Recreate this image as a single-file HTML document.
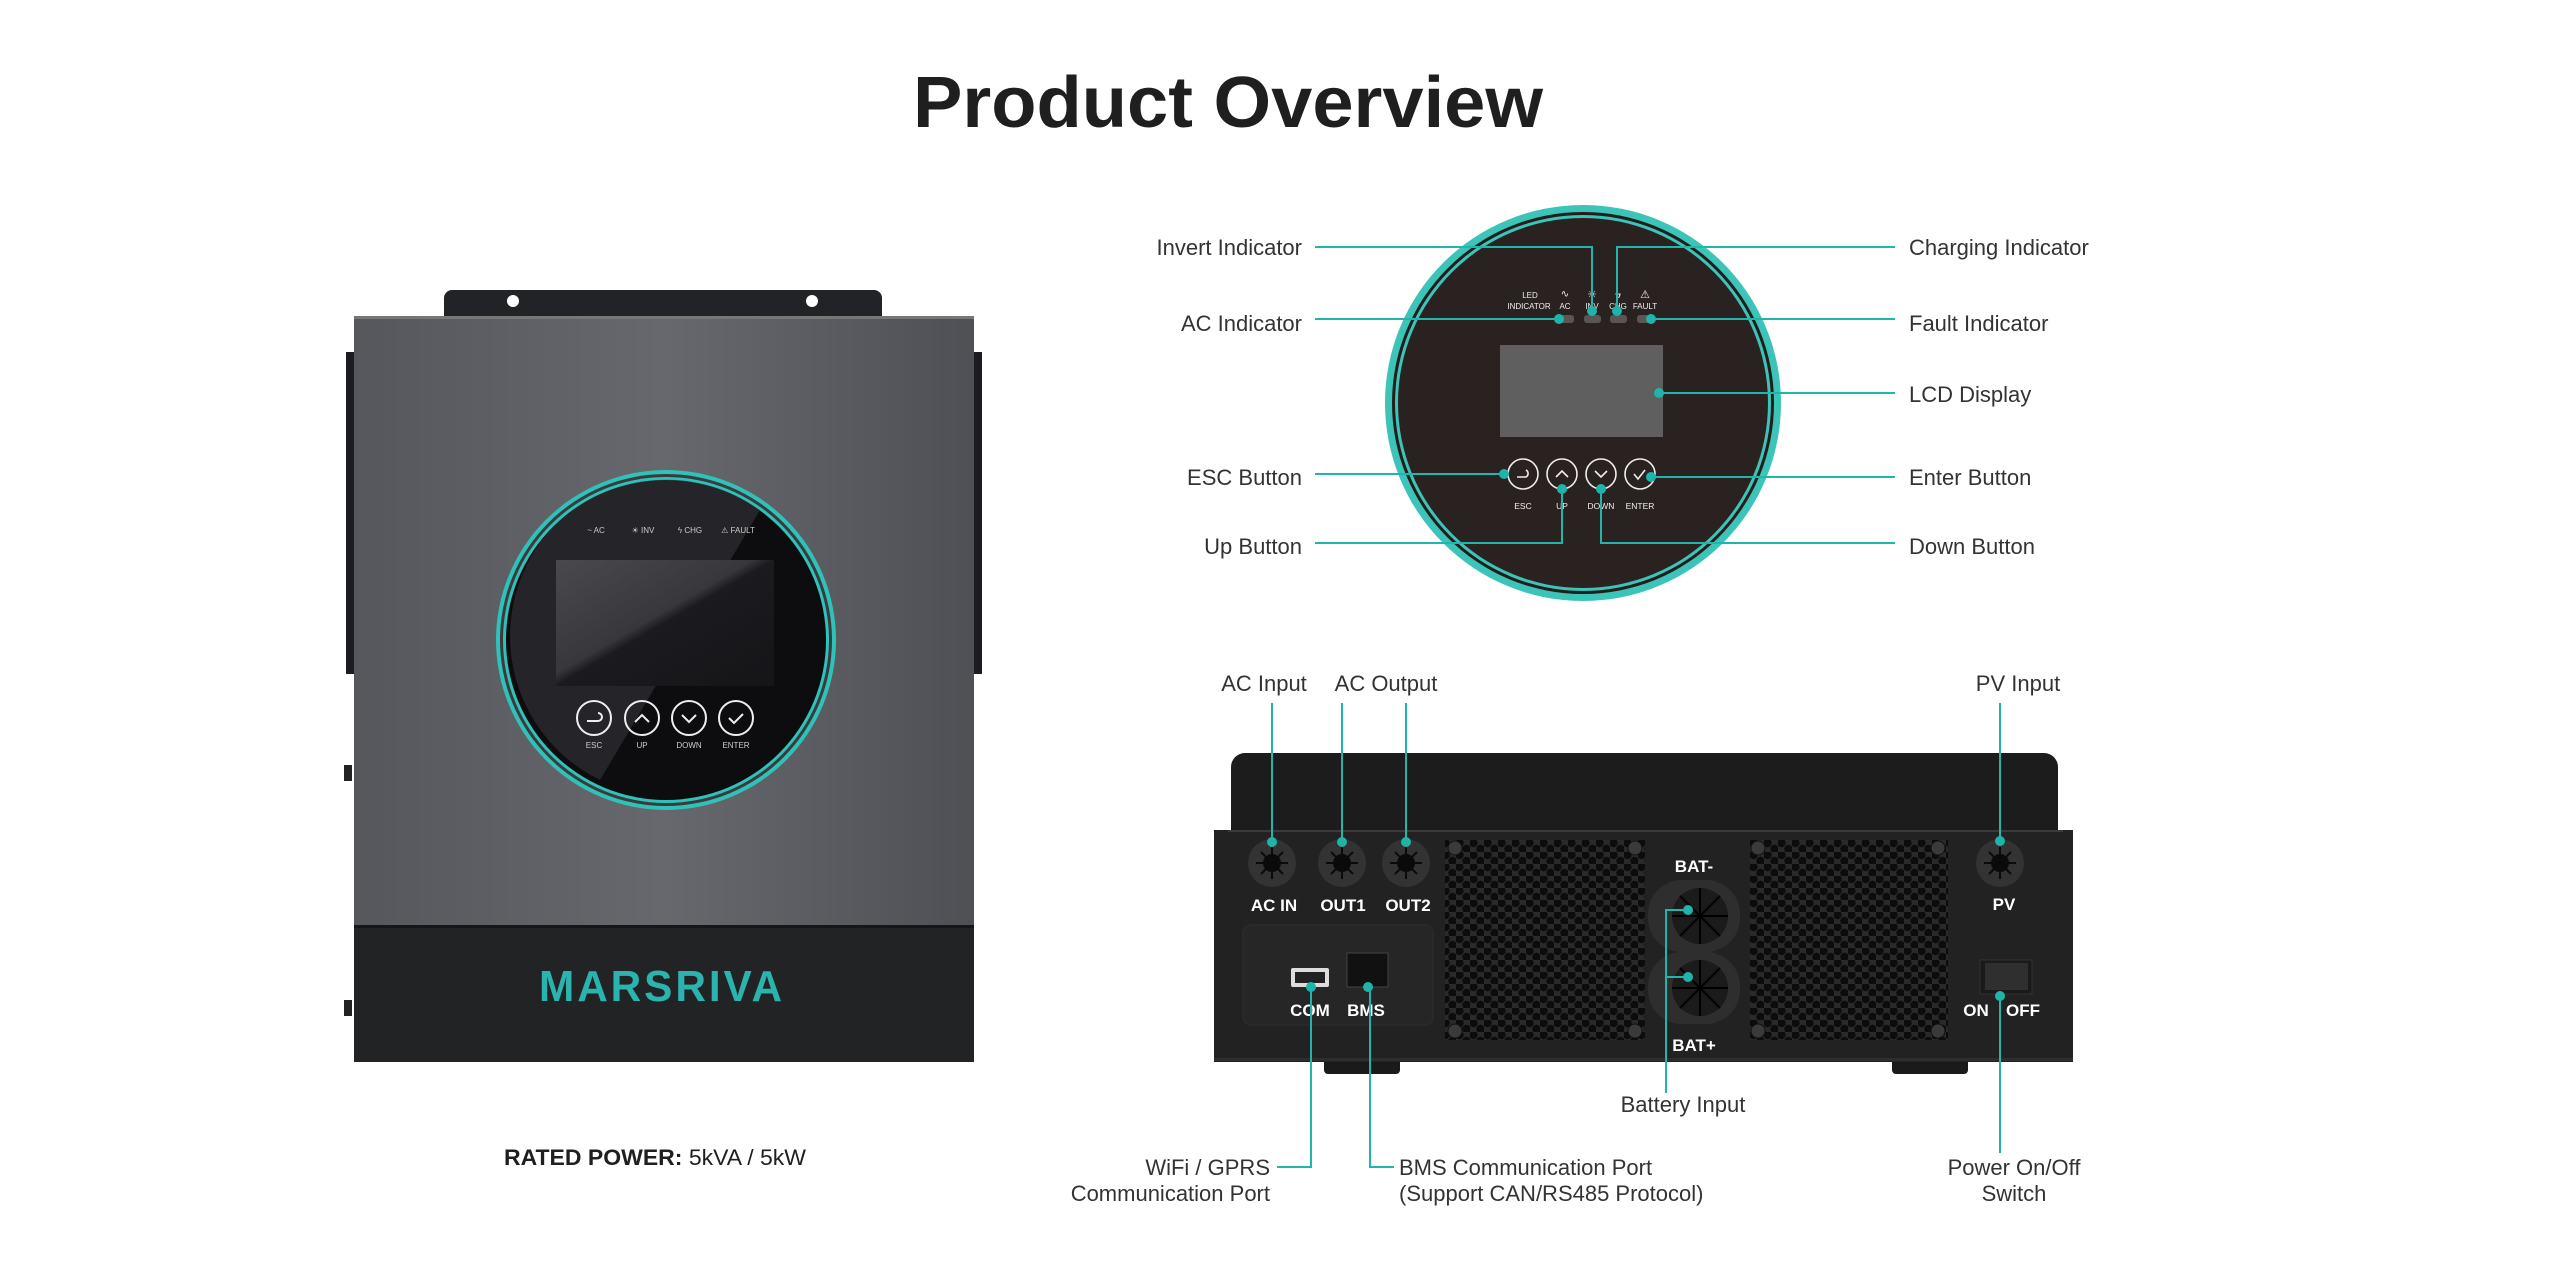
<!DOCTYPE html>
<html><head><meta charset="utf-8"><style>
html,body{margin:0;padding:0;background:#fff;}
svg{display:block}
text{font-family:"Liberation Sans",sans-serif;}
.lb{font-size:22px;fill:#333;}
.w{fill:#fff;font-weight:bold;}
.t{stroke:#22b5ab;stroke-width:2;fill:none;}
.d{fill:#1fb3aa;}
</style></head><body>
<svg width="2560" height="1280" viewBox="0 0 2560 1280" xmlns="http://www.w3.org/2000/svg">
<defs>
<linearGradient id="body" x1="0" y1="0" x2="1" y2="0">
<stop offset="0" stop-color="#55575c"/><stop offset="0.5" stop-color="#67686d"/><stop offset="1" stop-color="#4e5055"/>
</linearGradient>
<linearGradient id="lcd" x1="0" y1="0" x2="1" y2="1">
<stop offset="0" stop-color="#4a4a4e"/><stop offset="0.45" stop-color="#38383c"/><stop offset="0.5" stop-color="#1b1b1f"/><stop offset="1" stop-color="#151518"/>
</linearGradient>
<pattern id="hex" width="14" height="12" patternUnits="userSpaceOnUse">
<rect width="14" height="12" fill="#2a2a2c"/>
<circle cx="3.5" cy="3" r="4.2" fill="#0c0c0d"/><circle cx="10.5" cy="9" r="4.2" fill="#0c0c0d"/>
</pattern>
</defs>

<text x="1228" y="127" text-anchor="middle" font-size="72" font-weight="bold" fill="#1f1f1f" textLength="630" lengthAdjust="spacingAndGlyphs">Product Overview</text>

<!-- LEFT INVERTER -->
<path d="M452 290 h422 a8 8 0 0 1 8 8 v22 h-438 v-22 a8 8 0 0 1 8 -8z" fill="#222326"/>
<circle cx="513" cy="301" r="6" fill="#fff"/><circle cx="812" cy="301" r="6" fill="#fff"/>
<rect x="346" y="352" width="12" height="322" fill="#1c1d20"/>
<rect x="970" y="352" width="12" height="322" fill="#1c1d20"/>
<rect x="344" y="765" width="8" height="16" fill="#222"/><rect x="344" y="1000" width="8" height="16" fill="#222"/>
<rect x="354" y="316" width="620" height="746" fill="url(#body)"/>
<rect x="354" y="316" width="620" height="3" fill="#777"/>
<rect x="354" y="925" width="620" height="137" fill="#222325"/>
<rect x="354" y="925" width="620" height="3" fill="#161616"/>
<text x="662" y="1001" text-anchor="middle" font-size="44" font-weight="bold" fill="#2bb3ad" textLength="246" lengthAdjust="spacingAndGlyphs" letter-spacing="3">MARSRIVA</text>
<circle cx="666" cy="640" r="170" fill="#2fc2b8"/>
<circle cx="666" cy="640" r="166" fill="#3a3b3f"/>
<circle cx="666" cy="640" r="163" fill="#2fc2b8"/>
<circle cx="666" cy="640" r="160" fill="#0d0d10"/>
<path d="M560 520 A160 160 0 0 1 760 510 L600 780 A160 160 0 0 1 560 520z" fill="#3a3a3e" opacity="0.55"/>
<rect x="556" y="560" width="218" height="126" fill="url(#lcd)"/>
<g font-size="8" fill="#ccc" text-anchor="middle">
<text x="596" y="533">~ AC</text><text x="643" y="533">☀ INV</text><text x="690" y="533">ϟ CHG</text><text x="738" y="533">⚠ FAULT</text>
<text x="594" y="748">ESC</text><text x="642" y="748">UP</text><text x="689" y="748">DOWN</text><text x="736" y="748">ENTER</text>
</g>
<g stroke="#eee" stroke-width="2" fill="none">
<circle cx="594" cy="718" r="17"/><circle cx="642" cy="718" r="17"/><circle cx="689" cy="718" r="17"/><circle cx="736" cy="718" r="17"/>
<path d="M587 721 h11 a4 4 0 0 0 0 -8"/><path d="M635 722 l7 -7 l7 7"/><path d="M682 715 l7 7 l7 -7"/><path d="M729 718 l5 5 l9 -9"/>
</g>

<text x="504" y="1165" font-size="22" fill="#1f1f1f" textLength="302" lengthAdjust="spacingAndGlyphs"><tspan font-weight="bold">RATED POWER:</tspan> 5kVA / 5kW</text>

<!-- TOP RIGHT CIRCLE -->
<circle cx="1583" cy="403" r="198" fill="#3cc4b8"/>
<circle cx="1583" cy="403" r="191" fill="#231d1b"/>
<circle cx="1583" cy="403" r="188" fill="#3cc4b8"/>
<circle cx="1583" cy="403" r="185" fill="#2a2220"/>
<g font-size="8" fill="#eee" text-anchor="middle">
<text x="1530" y="298">LED</text><text x="1529" y="309">INDICATOR</text>
<text x="1565" y="309">AC</text><text x="1592" y="309">INV</text><text x="1618" y="309">CHG</text><text x="1645" y="309">FAULT</text>
<text x="1565" y="297" font-size="10">∿</text><text x="1592" y="298" font-size="11">☀</text><text x="1618" y="298" font-size="11">ϟ</text><text x="1645" y="298" font-size="11">⚠</text>
</g>
<g fill="#5a5655"><rect x="1557" y="315" width="17" height="8" rx="3"/><rect x="1584" y="315" width="17" height="8" rx="3"/><rect x="1610" y="315" width="17" height="8" rx="3"/><rect x="1637" y="315" width="17" height="8" rx="3"/></g>
<rect x="1500" y="345" width="163" height="92" fill="#5f5f5f"/>
<g stroke="#eee" stroke-width="1.6" fill="none">
<circle cx="1523" cy="474" r="15"/><circle cx="1562" cy="474" r="15"/><circle cx="1601" cy="474" r="15"/><circle cx="1640" cy="474" r="15"/>
<path d="M1517 477 h9 a4 4 0 0 0 0 -7"/><path d="M1556 477 l6 -6 l6 6"/><path d="M1595 471 l6 6 l6 -6"/><path d="M1634 474 l4 5 l7 -9"/>
</g>
<g font-size="8.5" fill="#eee" text-anchor="middle"><text x="1523" y="509">ESC</text><text x="1562" y="509">UP</text><text x="1601" y="509">DOWN</text><text x="1640" y="509">ENTER</text></g>

<g class="t">
<path d="M1315 247 H1592 V311"/><path d="M1895 247 H1617 V311"/>
<path d="M1315 319 H1559"/><path d="M1895 319 H1651"/>
<path d="M1895 393 H1659"/>
<path d="M1315 474 H1504"/><path d="M1895 477 H1651"/>
<path d="M1315 543 H1562 V489"/><path d="M1895 543 H1601 V489"/>
</g>
<g class="d">
<circle cx="1592" cy="311" r="5"/><circle cx="1617" cy="311" r="5"/><circle cx="1559" cy="319" r="5"/><circle cx="1651" cy="319" r="5"/>
<circle cx="1659" cy="393" r="5"/><circle cx="1504" cy="474" r="5"/><circle cx="1651" cy="477" r="5"/><circle cx="1562" cy="489" r="5"/><circle cx="1601" cy="489" r="5"/>
</g>
<g class="lb">
<text x="1302" y="255" text-anchor="end">Invert Indicator</text>
<text x="1302" y="331" text-anchor="end">AC Indicator</text>
<text x="1302" y="485" text-anchor="end">ESC Button</text>
<text x="1302" y="554" text-anchor="end">Up Button</text>
<text x="1909" y="255">Charging Indicator</text>
<text x="1909" y="331">Fault Indicator</text>
<text x="1909" y="402">LCD Display</text>
<text x="1909" y="485">Enter Button</text>
<text x="1909" y="554">Down Button</text>
</g>

<!-- BOTTOM RIGHT UNIT -->
<rect x="1324" y="1050" width="76" height="24" rx="4" fill="#1a1a1a"/>
<rect x="1892" y="1050" width="76" height="24" rx="4" fill="#1a1a1a"/>
<path d="M1245 753 H2044 a14 14 0 0 1 14 14 V835 H1231 V767 a14 14 0 0 1 14 -14z" fill="#1c1c1d"/>
<rect x="1214" y="830" width="859" height="232" fill="#222223"/>
<rect x="1228" y="830" width="835" height="2" fill="#3a3a3a"/>
<rect x="1214" y="1058" width="859" height="3" fill="#2e2e2e"/>
<rect x="1243" y="925" width="190" height="100" rx="8" fill="#262627" stroke="#2e2e2f"/>
<rect x="1445" y="840" width="200" height="200" fill="url(#hex)"/>
<rect x="1750" y="840" width="198" height="200" fill="url(#hex)"/>
<g fill="#3a3a3a" stroke="#111" stroke-width="1">
<circle cx="1455" cy="848" r="7"/><circle cx="1635" cy="848" r="7"/><circle cx="1455" cy="1031" r="7"/><circle cx="1635" cy="1031" r="7"/>
<circle cx="1758" cy="848" r="7"/><circle cx="1938" cy="848" r="7"/><circle cx="1758" cy="1031" r="7"/><circle cx="1938" cy="1031" r="7"/>
</g>
<g>
<circle cx="1272" cy="863" r="24" fill="#333334"/><circle cx="1272" cy="863" r="9" fill="#0a0a0a"/>
<circle cx="1342" cy="863" r="24" fill="#333334"/><circle cx="1342" cy="863" r="9" fill="#0a0a0a"/>
<circle cx="1406" cy="863" r="24" fill="#333334"/><circle cx="1406" cy="863" r="9" fill="#0a0a0a"/>
<circle cx="2000" cy="863" r="24" fill="#333334"/><circle cx="2000" cy="863" r="9" fill="#0a0a0a"/>
</g>
<g stroke="#0a0a0a" stroke-width="2">
<path d="M1256 863h32M1272 847v32M1261 852l22 22M1283 852l-22 22"/>
<path d="M1326 863h32M1342 847v32M1331 852l22 22M1353 852l-22 22"/>
<path d="M1390 863h32M1406 847v32M1395 852l22 22M1417 852l-22 22"/>
<path d="M1984 863h32M2000 847v32M1989 852l22 22M2011 852l-22 22"/>
</g>
<rect x="1648" y="880" width="92" height="72" rx="34" fill="#2e2e2f"/>
<rect x="1648" y="952" width="92" height="72" rx="34" fill="#2e2e2f"/>
<circle cx="1700" cy="916" r="28" fill="#1b1b1b"/><circle cx="1700" cy="988" r="28" fill="#1b1b1b"/>
<g stroke="#000" stroke-width="2"><path d="M1672 916h56M1700 888v56M1680 896l40 40M1720 896l-40 40"/><path d="M1672 988h56M1700 960v56M1680 968l40 40M1720 968l-40 40"/></g>
<g font-size="17" class="w" text-anchor="middle">
<text x="1274" y="911">AC IN</text><text x="1343" y="911">OUT1</text><text x="1408" y="911">OUT2</text><text x="2004" y="910">PV</text>
<text x="1694" y="872">BAT-</text><text x="1694" y="1051">BAT+</text>
<text x="1310" y="1016">COM</text><text x="1366" y="1016">BMS</text>
<text x="1976" y="1016">ON</text><text x="2023" y="1016">OFF</text>
</g>
<rect x="1291" y="968" width="38" height="19" rx="2" fill="#ddd"/><rect x="1295" y="972" width="30" height="11" fill="#222"/>
<rect x="1347" y="953" width="41" height="34" fill="#111" stroke="#444"/>
<rect x="1980" y="960" width="52" height="34" fill="#1a1a1a" stroke="#333"/>
<rect x="1985" y="963" width="43" height="27" fill="#2f2f30"/>

<g class="t">
<path d="M1272 703 V842"/><path d="M1342 703 V842"/><path d="M1406 703 V842"/><path d="M2000 703 V841"/>
<path d="M1311 987 V1167 H1277"/><path d="M1370 987 V1167 H1394"/>
<path d="M1688 910 H1666 V1093 M1666 977 H1688"/>
<path d="M2000 996 V1153"/>
</g>
<g class="d">
<circle cx="1272" cy="842" r="5"/><circle cx="1342" cy="842" r="5"/><circle cx="1406" cy="842" r="5"/><circle cx="2000" cy="841" r="5"/>
<circle cx="1311" cy="987" r="5"/><circle cx="1368" cy="987" r="5"/><circle cx="1688" cy="910" r="5"/><circle cx="1688" cy="977" r="5"/><circle cx="2000" cy="996" r="5"/>
</g>
<g class="lb">
<text x="1264" y="691" text-anchor="middle">AC Input</text>
<text x="1386" y="691" text-anchor="middle">AC Output</text>
<text x="2018" y="691" text-anchor="middle">PV Input</text>
<text x="1683" y="1112" text-anchor="middle">Battery Input</text>
<text x="1270" y="1175" text-anchor="end">WiFi / GPRS</text>
<text x="1270" y="1201" text-anchor="end">Communication Port</text>
<text x="1399" y="1175">BMS Communication Port</text>
<text x="1399" y="1201">(Support CAN/RS485 Protocol)</text>
<text x="2014" y="1175" text-anchor="middle">Power On/Off</text>
<text x="2014" y="1201" text-anchor="middle">Switch</text>
</g>
</svg>
</body></html>
